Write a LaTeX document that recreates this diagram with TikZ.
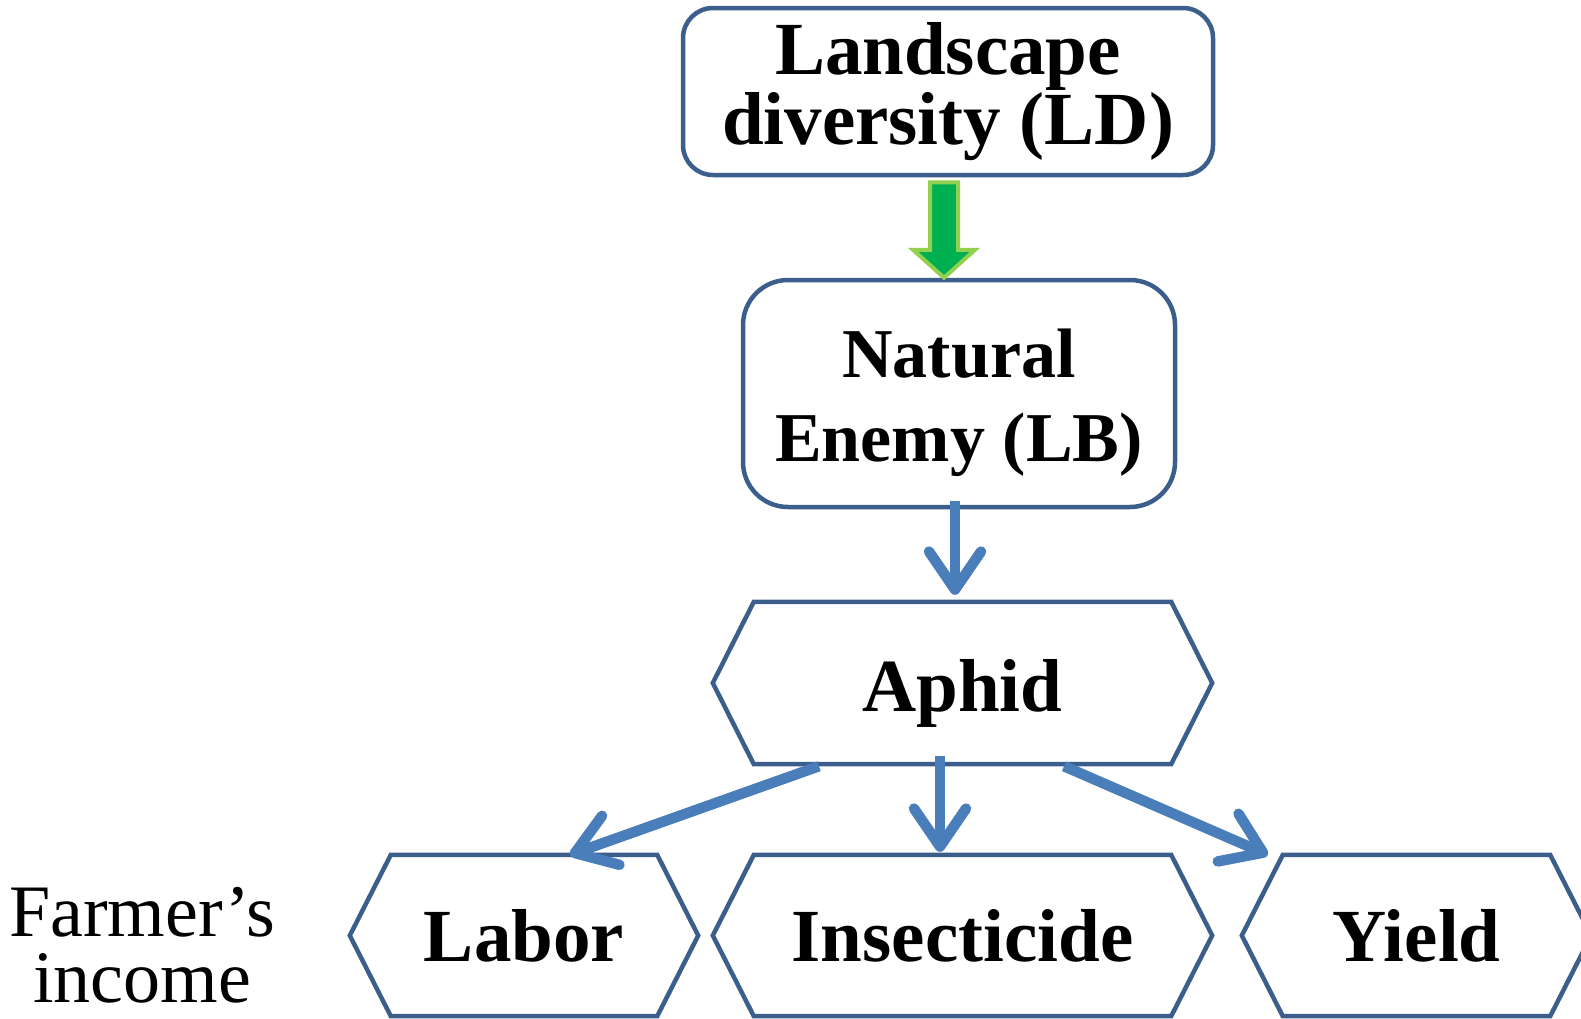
\documentclass[tikz,border=0pt]{standalone}
\usepackage{fontspec}
\setmainfont{Liberation Serif}
\usetikzlibrary{arrows.meta,calc}
\definecolor{boxblue}{RGB}{59,94,140}
\definecolor{arrblue}{RGB}{74,126,187}
\definecolor{gfill}{RGB}{0,176,80}
\definecolor{gline}{RGB}{146,208,80}
\newcommand\hexout[1]{%
  \draw[hexline] (#1.west) -- ([xshift=41pt]#1.north west) -- ([xshift=-41pt]#1.north east)
    -- (#1.east) -- ([xshift=-41pt]#1.south east) -- ([xshift=41pt]#1.south west) -- cycle;}
\tikzset{
  rbox/.style={draw=boxblue, line width=4.5pt, align=center, inner sep=0pt, fill=white},
  hexbox/.style={rectangle, inner sep=0pt, minimum height=161pt,
    font=\fontsize{75pt}{70pt}\selectfont\bfseries},
  hexline/.style={draw=boxblue, line width=4.5pt, line join=miter},
  barrow/.style={draw=arrblue, line width=10.5pt, line cap=butt,
    -{Straight Barb[length=38pt, width=52pt, round]}},
  greenarrow/.style={fill=gfill, draw=gline, line width=4pt, line join=miter},
}
\begin{document}
\begin{tikzpicture}[x=1pt, y=-1pt]
\useasboundingbox (0,0) rectangle (1581,1018);
\clip (0,0) rectangle (1581,1018);

\node[rbox, rounded corners=30pt, minimum width=530pt, minimum height=167pt,
  font=\fontsize{75pt}{70pt}\selectfont\bfseries] (ld) at (948,91.5) {Landscape\\diversity (LD)};
\node[rbox, rounded corners=45pt, minimum width=432pt, minimum height=227pt,
  font=\fontsize{70pt}{84pt}\selectfont\bfseries] (ne) at (959,393.5) {\rule{0pt}{68pt}Natural\\Enemy (LB)};

\node[hexbox, minimum width=499pt, minimum height=162pt] (aphid) at (962.5,683) {\rule{0pt}{72pt}Aphid};
\node[hexbox, minimum width=348pt] (labor) at (524,935.5) {Labor};
\node[hexbox, minimum width=499pt] (insect) at (962.5,935.5) {Insecticide};
\node[hexbox, minimum width=349pt] (yield) at (1416.5,935.5) {Yield};
\hexout{aphid}
\hexout{labor}
\hexout{insect}
\hexout{yield}

\node[font=\fontsize{74pt}{66pt}\selectfont, align=center, inner sep=0pt] (fi) at (142,945) {Farmer’s\\income};

% green block arrow
\coordinate (gs) at ([xshift=-4pt,yshift=-5pt]ld.south);
\coordinate (gt) at ([xshift=-15pt]ne.north);
\draw[greenarrow] ($(gs)+(-14,0)$) -- ($(gs)+(14,0)$) -- ($(gt)+(14,-28)$) -- ($(gt)+(31,-28)$)
  -- (gt) -- ($(gt)+(-31,-28)$) -- ($(gt)+(-14,-28)$) -- cycle;

% blue arrows
\draw[barrow] ([xshift=-4pt,yshift=8pt]ne.south) -- ([xshift=-4pt,yshift=7pt]ne.south |- aphid.north);
\draw[barrow] ([xshift=-22.5pt,yshift=8pt]aphid.south) -- ([xshift=-22.5pt,yshift=3pt]aphid.south |- insect.north);
\draw[barrow] ([xshift=-143.5pt,yshift=-2pt]aphid.south) -- ([xshift=46pt]labor.north);
\draw[barrow] ([xshift=101.5pt,yshift=-2pt]aphid.south) -- ([xshift=26pt]yield.north west);
\end{tikzpicture}
\end{document}
